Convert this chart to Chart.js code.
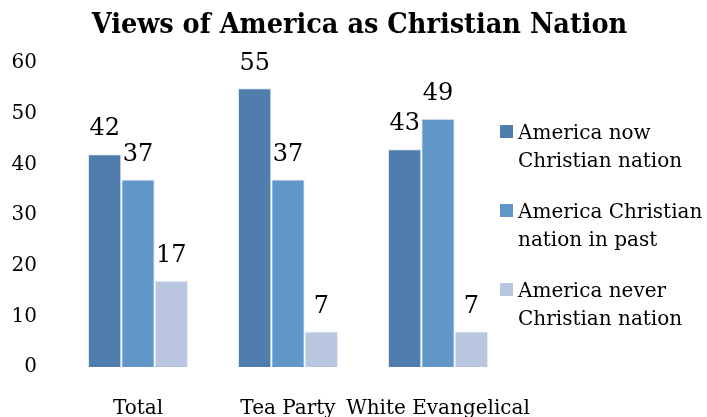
<!DOCTYPE html>
<html>
<head>
<meta charset="utf-8">
<script src="https://cdn.jsdelivr.net/npm/chart.js@4"></script>
<style>
  html, body { margin: 0; padding: 0; background: #fff; }
  #wrap { width: 707px; height: 417px; }
</style>
</head>
<body>
<div id="wrap"><canvas id="grafico"></canvas></div>
<script>
const categorias = ['Total', 'Tea Party', 'White Evangelical'];
const agoraCristao = [42, 55, 43];
const cristaoPassado = [37, 37, 49];
const nuncaCristao = [17, 7, 7];
const nomesSeries = [
  ['America now', 'Christian nation'],
  ['America Christian', 'nation in past'],
  ['America never', 'Christian nation']
];
const coresSeries = ['#4f7eae', '#6197c8', '#b8c7df'];
const titulo = 'Views of America as Christian Nation';

const fonte = "'DejaVu Serif', serif";

// titulo centrado na largura toda (o padding da direita tiraria ele do lugar)
const tituloTopo = {
  id: 'tituloTopo',
  afterDraw(chart) {
    const ctx = chart.ctx;
    ctx.save();
    ctx.font = "bold 28.5px 'DejaVu Serif Condensed', 'DejaVu Serif', serif";
    ctx.fillStyle = '#000';
    ctx.textAlign = 'center';
    ctx.textBaseline = 'middle';
    ctx.fillText(titulo, chart.width / 2 + 6, 26);
    ctx.restore();
  }
};

// rotulos de valor em cima das barras
const rotulosValor = {
  id: 'rotulosValor',
  afterDatasetsDraw(chart) {
    const ctx = chart.ctx;
    ctx.save();
    ctx.font = '24px ' + fonte;
    ctx.fillStyle = '#000';
    ctx.textAlign = 'center';
    ctx.textBaseline = 'middle';
    chart.data.datasets.forEach((ds, i) => {
      chart.getDatasetMeta(i).data.forEach((bar, j) => {
        ctx.fillText(ds.data[j], bar.x, bar.y - 25);
      });
    });
    ctx.restore();
  }
};

// legenda com duas linhas por item
const legendaLateral = {
  id: 'legendaLateral',
  afterDraw(chart) {
    const ctx = chart.ctx;
    const x = 500;
    const tops = [125, 204, 283];
    ctx.save();
    ctx.font = '20px ' + fonte;
    ctx.textBaseline = 'middle';
    chart.data.datasets.forEach((ds, i) => {
      ctx.fillStyle = ds.backgroundColor;
      ctx.fillRect(x, tops[i], 13, 13);
      ctx.fillStyle = '#000';
      nomesSeries[i].forEach((linha, k) => {
        ctx.fillText(linha, x + 18, tops[i] + 9 + k * 28);
      });
    });
    ctx.restore();
  }
};

new Chart(document.getElementById('grafico'), {
  type: 'bar',
  data: {
    labels: categorias,
    datasets: [
      { label: nomesSeries[0].join(' '), data: agoraCristao, backgroundColor: coresSeries[0] },
      { label: nomesSeries[1].join(' '), data: cristaoPassado, backgroundColor: coresSeries[1] },
      { label: nomesSeries[2].join(' '), data: nuncaCristao, backgroundColor: coresSeries[2] }
    ].map(d => Object.assign(d, {
      borderColor: '#e4ecf5',
      borderWidth: 1,
      categoryPercentage: 0.667,
      barPercentage: 1.0
    }))
  },
  options: {
    responsive: true,
    maintainAspectRatio: false,
    animation: false,
    layout: { padding: { left: 0, right: 194, top: 63, bottom: 0 } },
    plugins: {
      legend: { display: false },
      tooltip: { enabled: false },
      title: { display: false }
    },
    scales: {
      x: {
        grid: { display: false, drawTicks: false },
        border: { display: false },
        ticks: {
          color: '#000', padding: 30, maxRotation: 0, minRotation: 0, autoSkip: false,
          font: { family: fonte, size: 20 }
        },
        afterFit(s) { s.height = 50; }
      },
      y: {
        min: 0,
        max: 60,
        grid: { display: false, drawTicks: false },
        border: { display: false },
        ticks: { stepSize: 10, color: '#000', padding: 26, font: { family: fonte, size: 20 } },
        afterFit(s) { s.width = 63; }
      }
    }
  },
  plugins: [rotulosValor, legendaLateral, tituloTopo]
});
</script>
</body>
</html>
